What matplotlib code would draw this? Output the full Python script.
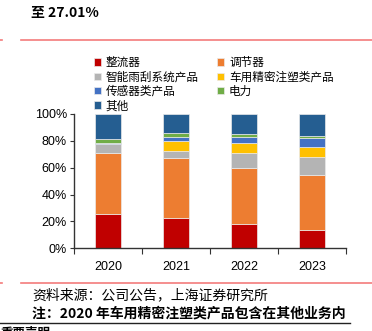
import matplotlib
matplotlib.use("Agg")
import matplotlib.pyplot as plt
from matplotlib.lines import Line2D

plt.rcParams['font.family'] = ['Liberation Sans', 'Noto Sans CJK SC', 'DejaVu Sans']

W, H = 372, 331

years = ['2020', '2021', '2022', '2023']
series_names = ['整流器', '调节器', '智能雨刮系统产品', '车用精密注塑类产品',
                '传感器类产品', '电力', '其他']
rectifier = [25.8, 22.3, 18.4, 13.9]
regulator = [44.9, 45.2, 41.6, 40.9]
wiper = [6.7, 5.2, 10.7, 12.9]
injection = [0.0, 7.0, 7.5, 7.5]
sensor = [0.8, 3.4, 4.4, 7.2]
power = [2.9, 2.5, 2.5, 1.5]
other = [18.9, 14.4, 14.9, 16.1]
colors = ['#C00000', '#ED7D31', '#B4B4B4', '#FFC000', '#4472C4', '#70AD47', '#255E91']

yticks = [0, 20, 40, 60, 80, 100]

CJK = ['Noto Sans CJK SC', 'Liberation Sans']


def px(x, y):
    # pixel position (from top-left) -> figure fraction
    return x / W, 1 - y / H


fig = plt.figure(figsize=(W / 100, H / 100), dpi=100)

fig.text(*px(31, 13), '至 27.01%', fontsize=10, fontweight='bold',
         va='center', ha='left', family=CJK)

red = '#F47C7C'
for yy in (40, 283):
    fig.add_artist(Line2D([21 / W, 1], [1 - yy / H] * 2, color=red, lw=1.2))
    fig.add_artist(Line2D([0, 2 / W], [1 - yy / H] * 2, color=red, lw=1.2))
fig.add_artist(Line2D([0, 350 / W], [1 - 323 / H] * 2, color='#222222', lw=1.0))

ax = fig.add_axes([74 / W, 1 - 248.3 / H, 272 / W, 134.3 / H])

data = [rectifier, regulator, wiper, injection, sensor, power, other]
x = range(len(years))
bottom = [0.0] * len(years)
handles = []
for name, vals, c in zip(series_names, data, colors):
    b = ax.bar(x, vals, 0.39, bottom=bottom, color=c, edgecolor='#EAEAEA',
               linewidth=0.5, label=name)
    handles.append(b)
    bottom = [b0 + v for b0, v in zip(bottom, vals)]

ax.set_xlim(-0.5, 3.5)
ax.set_ylim(0, 100)
ax.set_yticks(yticks)
ax.set_yticklabels([f'{t}%' for t in yticks], fontsize=9)
ax.set_xticks([i + 0.5 for i in range(-1, 4)])
ax.set_xticklabels([])
ax.set_xticks(list(x), minor=True)
ax.set_xticklabels(years, minor=True, fontsize=9)
ax.tick_params(axis='x', which='minor', length=0, pad=9)
ax.tick_params(axis='x', which='major', length=4, color='#333333', direction='out')
ax.tick_params(axis='y', length=3, color='#333333', direction='out', pad=2)
for s in ['top', 'right']:
    ax.spines[s].set_visible(False)
for s in ['left', 'bottom']:
    ax.spines[s].set_color('#333333')
    ax.spines[s].set_linewidth(1.0)

# legend is filled column-first, so reorder to read row by row
order = [0, 2, 4, 6, 1, 3, 5]
fig.legend(handles=[handles[i] for i in order], loc='upper left',
           bbox_to_anchor=px(94, 56), ncol=2, frameon=False,
           handlelength=0.6, handleheight=0.6, handletextpad=0.4,
           columnspacing=1.6, labelspacing=0.12, borderaxespad=0, borderpad=0,
           prop={'family': ['Noto Sans CJK SC', 'DejaVu Sans'], 'size': 8.4})

fig.text(*px(32, 295), '资料来源：公司公告，上海证券研究所', fontsize=10, style='italic',
         va='center', ha='left', family=CJK)
fig.text(*px(32, 314), '注：2020 年车用精密注塑类产品包含在其他业务内', fontsize=10,
         style='italic', fontweight='bold', va='center', ha='left', family=CJK)
fig.text(*px(0, 326.5), '重要声明', fontsize=9, fontweight='bold', va='top', ha='left',
         family=CJK)

fig.savefig('out.png', dpi=100)
